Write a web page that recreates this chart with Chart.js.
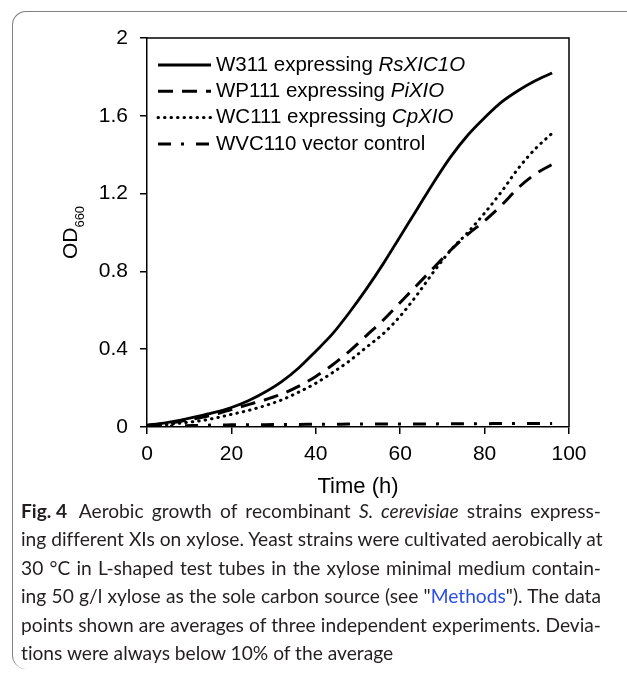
<!DOCTYPE html>
<html>
<head>
<meta charset="utf-8">
<script src="https://cdn.jsdelivr.net/npm/chart.js@4.4.1/dist/chart.umd.min.js"></script>
<style>
    html, body { margin: 0; padding: 0; background: #fff; width: 627px; height: 676px; overflow: hidden; }
    #frame {
        position: absolute; left: 12px; top: 11px; width: 700px; height: 657px;
        border-top: 1.5px solid #808080; border-left: 1.5px solid #808080;
        border-top-left-radius: 14px; border-bottom-left-radius: 14px;
    }
    #wrap { position: absolute; left: 0; top: 0; width: 627px; height: 500px; }
    #caption {
        position: absolute; left: 21px; top: 497px; width: 580px;
        font-family: Lato, "Open Sans", sans-serif; font-size: 19.2px; line-height: 28.4px; color: #231f20;
        font-variant-ligatures: none;
    }
    #caption div { text-align: justify; text-align-last: justify; white-space: nowrap; }
    #caption div.last { text-align-last: left; }
    #caption .fig { display: inline-block; font-weight: bold; margin-right: 4px; }
    #caption a { color: #2b50e0; text-decoration: none; }
</style>
</head>
<body>
<div id="frame"></div>
<div id="wrap"><canvas id="growthChart" width="627" height="500"></canvas></div>
<div id="caption">
    <div><span class="fig">Fig. 4</span> Aerobic growth of recombinant <i>S. cerevisiae</i> strains express-</div>
    <div>ing different XIs on xylose. Yeast strains were cultivated aerobically at</div>
    <div>30 °C in L-shaped test tubes in the xylose minimal medium contain-</div>
    <div>ing 50 g/l xylose as the sole carbon source (see "<a>Methods</a>"). The data</div>
    <div>points shown are averages of three independent experiments. Devia-</div>
    <div class="last">tions were always below 10% of the average</div>
</div>
<script>
const times = [0, 4, 8, 12, 16, 20, 24, 28, 32, 36, 40, 44, 48, 52, 56, 60, 64, 68, 72, 76, 80, 84, 88, 92, 96];
const w311 = [0.01, 0.02, 0.035, 0.055, 0.075, 0.10, 0.135, 0.18, 0.235, 0.305, 0.39, 0.48, 0.59, 0.71, 0.84, 0.98, 1.12, 1.26, 1.39, 1.50, 1.59, 1.67, 1.73, 1.78, 1.82];
const wp111 = [0.005, 0.015, 0.03, 0.045, 0.065, 0.09, 0.115, 0.14, 0.17, 0.21, 0.26, 0.32, 0.39, 0.47, 0.55, 0.64, 0.73, 0.82, 0.91, 0.99, 1.06, 1.14, 1.23, 1.30, 1.35];
const wc111 = [0.003, 0.01, 0.02, 0.03, 0.045, 0.065, 0.085, 0.11, 0.14, 0.18, 0.225, 0.28, 0.34, 0.41, 0.48, 0.57, 0.68, 0.80, 0.91, 1.00, 1.10, 1.21, 1.33, 1.43, 1.51];
const wvc110 = [0, 0.003, 0.006, 0.008, 0.01, 0.011, 0.012, 0.012, 0.013, 0.013, 0.014, 0.014, 0.015, 0.015, 0.015, 0.016, 0.016, 0.016, 0.017, 0.017, 0.017, 0.018, 0.018, 0.018, 0.018];

const legendPlain = ["W311 expressing ", "WP111 expressing ", "WC111 expressing ", "WVC110 vector control"];
const legendItalic = ["RsXIC1O", "PiXIO", "CpXIO", ""];

const xMin = 0, xMax = 100, xStep = 20;
const yMin = 0, yMax = 2, yStep = 0.4;

const AXIS_FONT = "Arial, 'Liberation Sans', sans-serif";

const toPoints = ys => times.map((t, i) => ({ x: t, y: ys[i] }));

const styles = [
    { borderDash: [], borderWidth: 2.8, borderCapStyle: "butt" },
    { borderDash: [15, 9], borderWidth: 3, borderCapStyle: "butt" },
    { borderDash: [0.5, 6], borderWidth: 3, borderCapStyle: "round" },
    { borderDash: [13, 10, 3, 12], borderWidth: 3, borderCapStyle: "butt" },
];

const series = [w311, wp111, wc111, wvc110];

// frame, y title with subscript, and mixed-style legend
const extras = {
    id: "extras",
    afterDraw(chart) {
        const { ctx, chartArea: a } = chart;
        ctx.save();
        ctx.strokeStyle = "#000";
        ctx.lineWidth = 1.5;
        ctx.beginPath();
        ctx.moveTo(a.left, a.top);
        ctx.lineTo(a.right, a.top);
        ctx.lineTo(a.right, a.bottom);
        ctx.stroke();

        // y title
        const cy = (a.top + a.bottom) / 2;
        ctx.translate(77, cy);
        ctx.rotate(-Math.PI / 2);
        ctx.fillStyle = "#000";
        ctx.textBaseline = "alphabetic";
        ctx.font = `21px ${AXIS_FONT}`;
        const w1 = ctx.measureText("OD").width;
        ctx.font = `13px ${AXIS_FONT}`;
        const w2 = ctx.measureText("660").width;
        const start = -(w1 + w2) / 2;
        ctx.font = `21px ${AXIS_FONT}`;
        ctx.fillText("OD", start, 0);
        ctx.font = `13px ${AXIS_FONT}`;
        ctx.fillText("660", start + w1, 7);
        ctx.restore();

        // legend
        ctx.save();
        const x0 = a.left + 11, x1 = a.left + 64, tx = a.left + 69;
        legendPlain.forEach((txt, i) => {
            const y = a.top + 27 + i * 26.3;
            const st = styles[i];
            ctx.strokeStyle = "#000";
            ctx.lineWidth = st.borderWidth;
            ctx.lineCap = st.borderCapStyle;
            ctx.setLineDash(st.borderDash);
            ctx.beginPath();
            ctx.moveTo(x0, y);
            ctx.lineTo(x1, y);
            ctx.stroke();
            ctx.setLineDash([]);
            ctx.fillStyle = "#000";
            ctx.textBaseline = "middle";
            ctx.font = `20.5px ${AXIS_FONT}`;
            ctx.fillText(txt, tx, y);
            if (legendItalic[i]) {
                const w = ctx.measureText(txt).width;
                ctx.font = `italic 20.5px ${AXIS_FONT}`;
                ctx.fillText(legendItalic[i], tx + w, y);
            }
        });
        ctx.restore();
    },
};

new Chart(document.getElementById("growthChart").getContext("2d"), {
    type: "line",
    data: {
        datasets: series.map((ys, i) => ({
            label: legendPlain[i] + legendItalic[i],
            data: toPoints(ys),
            borderColor: "#000",
            backgroundColor: "#000",
            borderWidth: styles[i].borderWidth,
            borderDash: styles[i].borderDash,
            borderCapStyle: styles[i].borderCapStyle,
            pointRadius: 0,
            cubicInterpolationMode: "monotone",
            fill: false,
        })),
    },
    options: {
        responsive: false,
        animation: false,
        layout: { padding: { top: 38, right: 58, left: 0, bottom: 0 } },
        plugins: { legend: { display: false }, tooltip: { enabled: false } },
        scales: {
            x: {
                type: "linear",
                min: xMin, max: xMax,
                afterFit: s => { s.height = 73; },
                ticks: { stepSize: xStep, color: "#000", font: { family: AXIS_FONT, size: 21 }, padding: 8, maxRotation: 0 },
                grid: { drawOnChartArea: false, drawTicks: true, tickLength: 7, color: "#000", lineWidth: 1.5 },
                border: { display: true, color: "#000", width: 1.5 },
                title: { display: true, text: "Time (h)", color: "#000", font: { family: AXIS_FONT, size: 22 }, padding: 0 },
            },
            y: {
                min: yMin, max: yMax,
                afterFit: s => { s.width = 147; },
                ticks: {
                    stepSize: yStep, color: "#000", font: { family: AXIS_FONT, size: 21 }, padding: 12,
                    callback: v => String(parseFloat(v.toFixed(2))),
                },
                grid: { drawOnChartArea: false, drawTicks: true, tickLength: 7, color: "#000", lineWidth: 1.5 },
                border: { display: true, color: "#000", width: 1.5 },
            },
        },
    },
    plugins: [extras],
});
</script>
</body>
</html>
